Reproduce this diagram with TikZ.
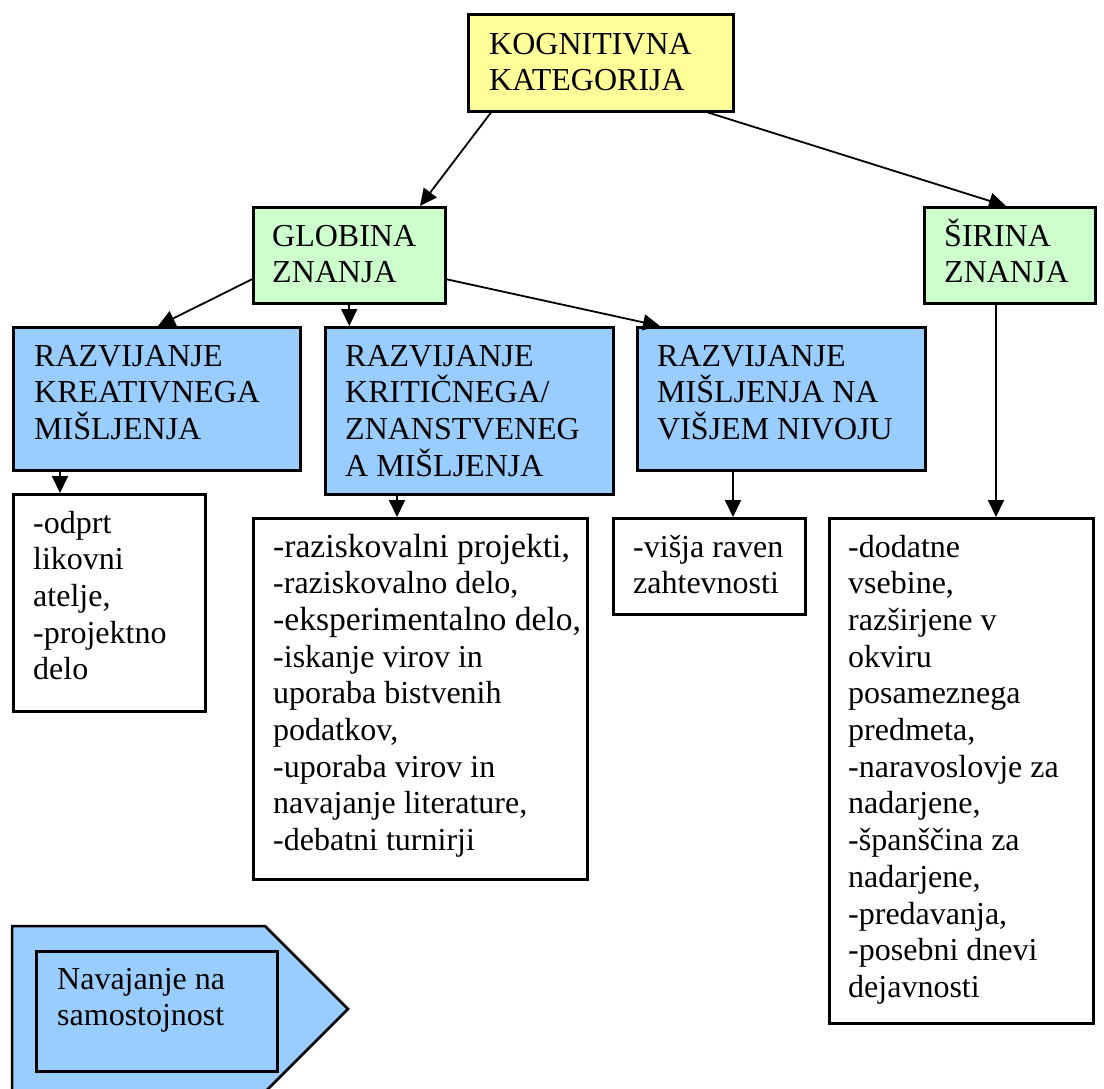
\documentclass[tikz,border=0pt]{standalone}
\usepackage{fontspec}
\setmainfont{Liberation Serif}
\usetikzlibrary{arrows.meta,calc}

\definecolor{kogfill}{HTML}{FFFF99}
\definecolor{znfill}{HTML}{CCFFCC}
\definecolor{razfill}{HTML}{99CCFF}

% box: an empty framed rectangle placed by its top-left corner
\tikzset{
  box/.style={draw=black, line width=2.5pt, rectangle, inner sep=0pt,
              anchor=north west},
  txt/.style={anchor=base west, inner sep=0pt, font=\fontsize{32}{36.7}\selectfont},
  conn/.style={line width=1.8pt, -{Triangle[length=17pt,width=16pt]}},
}
\newcommand{\lines}[1]{\parbox[t]{12cm}{\raggedright #1}}
\newcommand{\bigline}[1]{{\fontsize{33.6}{36.7}\selectfont #1}}

\begin{document}
\begin{tikzpicture}[x=1pt,y=-1pt]
\useasboundingbox (0,0) rectangle (1104,1088);

% top level
\node[box, fill=kogfill, minimum width=265pt, minimum height=97pt] (kog) at (467,13) {};
\node[txt] (kogt) at (489,54) {\lines{KOGNITIVNA\\KATEGORIJA}};

% second level
\node[box, fill=znfill, minimum width=192pt, minimum height=96pt] (glob) at (252,206) {};
\node[txt] (globt) at (272,246) {\lines{GLOBINA\\ZNANJA}};
\node[box, fill=znfill, minimum width=171pt, minimum height=96pt] (sir) at (923,206) {};
\node[txt] (sirt) at (944,246) {\lines{ŠIRINA\\ZNANJA}};

% kinds of thinking
\node[box, fill=razfill, minimum width=287pt, minimum height=143pt] (b1) at (12,326) {};
\node[txt] (b1t) at (34,366) {\lines{RAZVIJANJE\\KREATIVNEGA\\MIŠLJENJA}};
\node[box, fill=razfill, minimum width=288pt, minimum height=167pt] (b2) at (324,326) {};
\node[txt] (b2t) at (345,366) {\lines{RAZVIJANJE\\KRITIČNEGA/\\ZNANSTVENEG\\A MIŠLJENJA}};
\node[box, fill=razfill, minimum width=288pt, minimum height=143pt] (b3) at (636,326) {};
\node[txt] (b3t) at (657,366) {\lines{RAZVIJANJE\\MIŠLJENJA NA\\VIŠJEM NIVOJU}};

% activities
\node[box, fill=white, minimum width=192pt, minimum height=217pt] (w1) at (12,493) {};
\node[txt] (w1t) at (33,533) {\lines{-odprt\\likovni\\atelje,\\-projektno\\delo}};
\node[box, fill=white, minimum width=334pt, minimum height=361pt] (w2) at (252,517) {};
\node[txt] (w2t) at (273,557) {\lines{\bigline{-raziskovalni projekti,}\\-raziskovalno delo,\\\bigline{-eksperimentalno delo,}\\-iskanje virov in\\uporaba bistvenih\\podatkov,\\-uporaba virov in\\navajanje literature,\\-debatni turnirji}};
\node[box, fill=white, minimum width=192pt, minimum height=96pt] (w3) at (612,517) {};
\node[txt] (w3t) at (633,557) {\lines{-višja raven\\zahtevnosti}};
\node[box, fill=white, minimum width=264pt, minimum height=505pt] (w4) at (828,517) {};
\node[txt] (w4t) at (848,557) {\lines{-dodatne\\vsebine,\\razširjene v\\okviru\\posameznega\\predmeta,\\-naravoslovje za\\nadarjene,\\-španščina za\\nadarjene,\\-predavanja,\\-posebni dnevi\\dejavnosti}};

% arrow-shaped panel with framed note
\draw[line width=2.5pt, fill=razfill] (12,926) -- (265,926) -- (348,1009) -- (265,1092) -- (12,1092) -- cycle;
\node[box, fill=razfill, minimum width=241pt, minimum height=120pt] (nav) at (35,950) {};
\node[txt] (navt) at (57,989) {\lines{Navajanje na\\samostojnost}};

% connectors
\draw[conn] ([xshift=24pt]kog.south west) -- ([xshift=168pt]glob.north west);
\draw[conn] ([xshift=241pt]kog.south west) -- ([xshift=83pt]sir.north west);
\draw[conn] ([yshift=-24pt]glob.west) -- ([xshift=146pt]b1.north west);
\draw[conn] (glob.south) -- (glob.south |- b2.north);
\draw[conn] ([yshift=-24pt]glob.east) -- ([xshift=24pt]b3.north west);

\coordinate (o1) at ([xshift=48pt]b1.south west);
\coordinate (o2) at ([xshift=73pt]b2.south west);
\coordinate (o3) at ([xshift=97pt]b3.south west);
\draw[conn] (o1) -- (o1 |- w1.north);
\draw[conn] (o2) -- (o2 |- w2.north);
\draw[conn] (o3) -- (o3 |- w3.north);
\draw[conn] ([xshift=73pt]sir.south west) -- ([xshift=168pt]w4.north west);
\end{tikzpicture}
\end{document}
